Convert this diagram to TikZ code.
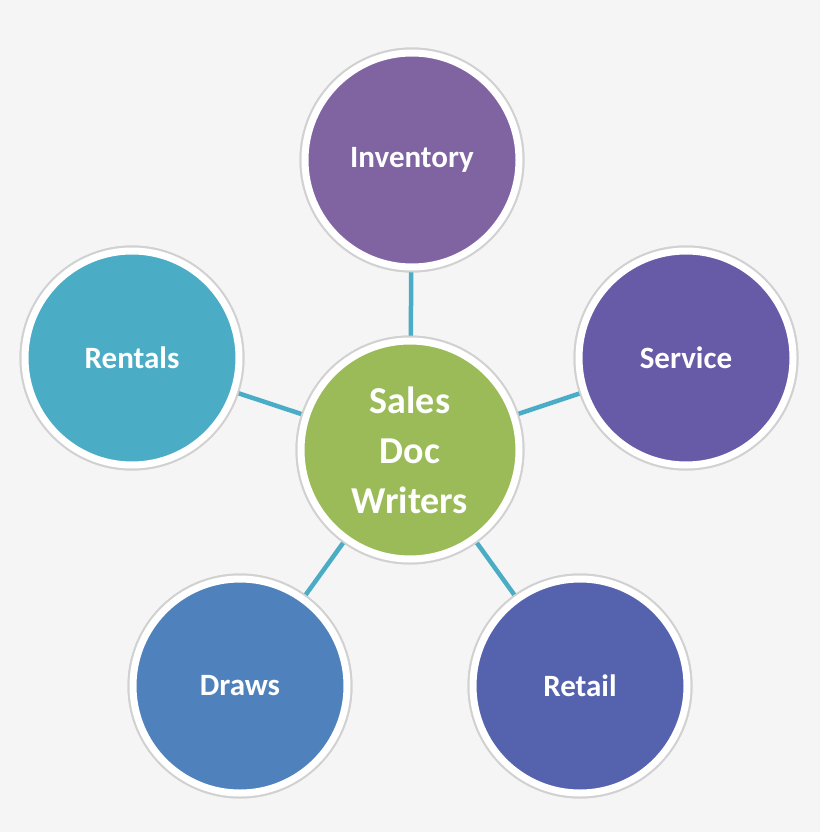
\documentclass[tikz,border=0pt]{standalone}
\usepackage{fontspec}
\setmainfont{Carlito}
\definecolor{bg}{HTML}{F5F5F5}
\definecolor{cgreen}{HTML}{9BBB59}
\definecolor{cinv}{HTML}{8064A2}
\definecolor{cserv}{HTML}{675BA7}
\definecolor{cret}{HTML}{5563AE}
\definecolor{cdraw}{HTML}{4F81BD}
\definecolor{crent}{HTML}{4BACC6}
\begin{document}
\begin{tikzpicture}[x=1pt,y=-1pt,
  bub/.style={circle,draw=white,line width=7pt,minimum size=214pt,inner sep=0pt,
    text=white,font=\bfseries\fontsize{31}{34}\selectfont,align=center,
    preaction={draw=black!18,line width=11pt}},
  link/.style={draw=crent,line width=4.5pt}]
\fill[bg] (0,0) rectangle (820,832);
\node[bub,fill=cgreen,minimum size=218pt,font=\bfseries\fontsize{38}{50}\selectfont] (c) at (410,450) {Sales\\Doc\\Writers};
\node[bub,fill=cinv] (inv) at (412,160) {Inventory};
\node[bub,fill=cserv] (serv) at (686,358) {Service};
\node[bub,fill=cret] (ret) at (580,686) {Retail};
\node[bub,fill=cdraw] (dr) at (240,686) {Draws};
\node[bub,fill=crent] (ren) at (132,358) {Rentals};
\begin{scope}[on background layer/.style={}]
\end{scope}
\foreach \n in {inv,serv,ret,dr,ren}{
  \path[link] (c) -- (\n);
}
\node[bub,fill=cgreen,minimum size=218pt,font=\bfseries\fontsize{38}{50}\selectfont] at (410,450) {Sales\\Doc\\Writers};
\node[bub,fill=cinv] at (412,160) {Inventory};
\node[bub,fill=cserv] at (686,358) {Service};
\node[bub,fill=cret] at (580,686) {Retail};
\node[bub,fill=cdraw] at (240,686) {Draws};
\node[bub,fill=crent] at (132,358) {Rentals};
\end{tikzpicture}
\end{document}
